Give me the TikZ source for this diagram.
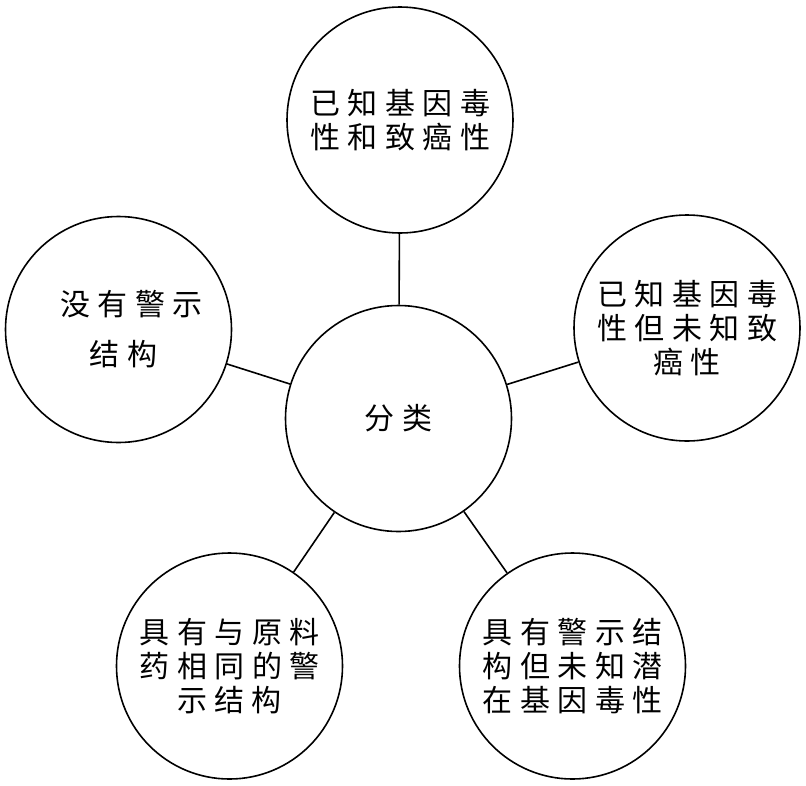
\documentclass[tikz,border=0pt]{standalone}
\usepackage{fontspec}
\newfontfamily\cjk{Noto Sans CJK SC}
\makeatletter
\def\spc#1{\spc@a#1\@nil}
\def\spc@a#1#2{#1\ifx\@nil#2\expandafter\@gobble\else\kern7.5pt\expandafter\spc@a\fi#2}
\makeatother
\tikzset{
  bubble/.style={circle, draw, line width=1.6pt, minimum size=226pt, inner sep=0pt,
    align=center, font=\cjk\fontsize{30}{34}\selectfont},
  link/.style={line width=1.6pt}
}
\begin{document}
\begin{tikzpicture}
\useasboundingbox (0,0) rectangle (806pt,-785pt);
\node[bubble] (c) at (398.5pt,-418.5pt) {\spc{分类}};
\node[bubble] (t) at (400pt,-120pt) {\spc{已知基因毒}\\\spc{性和致癌性}};
\node[bubble] (r) at (687pt,-328pt) {\spc{已知基因毒}\\\spc{性但未知致}\\\spc{癌性}};
\node[bubble, font=\cjk\fontsize{30}{50}\selectfont] (l) at (118.5pt,-329.5pt) {\hspace*{26pt}\spc{没有警示}\\\hspace*{10pt}\spc{结构}};
\node[bubble] (bl) at (229.5pt,-666pt) {\spc{具有与原料}\\\spc{药相同的警}\\\spc{示结构}};
\node[bubble] (br) at (572.5pt,-666pt) {\spc{具有警示结}\\\spc{构但未知潜}\\\spc{在基因毒性}};
\draw[link] (c) -- (t);
\draw[link] (c) -- (r);
\draw[link] (c) -- (l);
\draw[link] (c) -- (bl);
\draw[link] (c) -- (br);
\end{tikzpicture}
\end{document}
